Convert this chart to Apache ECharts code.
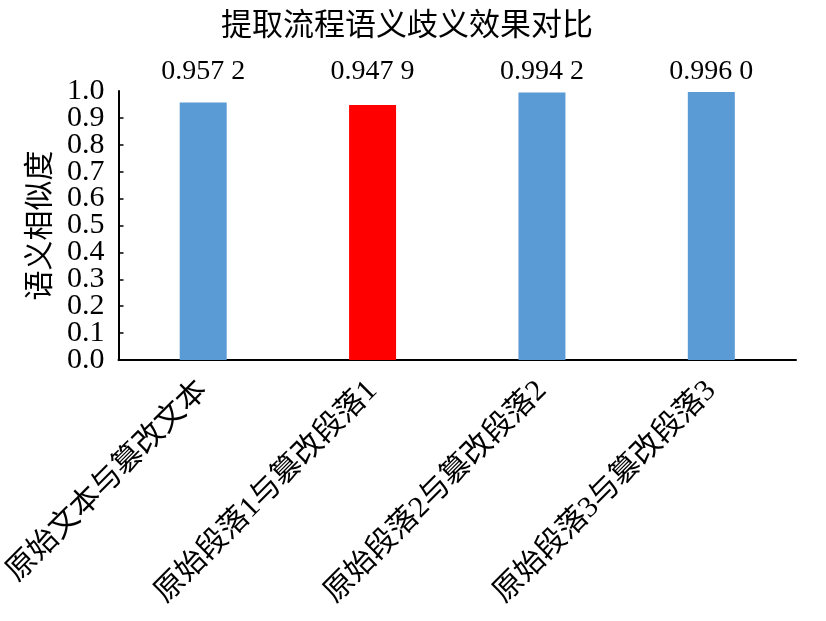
<!DOCTYPE html>
<html>
<head>
<meta charset="utf-8">
<script src="https://cdn.jsdelivr.net/npm/echarts@6/dist/echarts.min.js"></script>
<style>html,body{margin:0;padding:0;background:#fff;}#c{width:826px;height:621px;}</style>
</head>
<body>
<div id="c"></div>
<script>
var titleText = '提取流程语义歧义效果对比';
var yAxisName = '语义相似度';
var categories = ['原始文本与篡改文本', '原始段落1与篡改段落1', '原始段落2与篡改段落2', '原始段落3与篡改段落3'];
var values = [0.9572, 0.9479, 0.9942, 0.9960];
var barColors = ['#5B9BD5', '#FF0000', '#5B9BD5', '#5B9BD5'];
var yMin = 0, yMax = 1, yInterval = 0.1;

var FONT = "'Liberation Serif', 'Noto Sans CJK SC', serif";
function fmt(v) {
  var s = v.toFixed(4);
  return s.slice(0, 5) + ' ' + s.slice(5);
}
var yLabelStyle = { fontFamily: FONT, fontSize: 30, color: '#000', margin: 14,
  formatter: function (v) { return v.toFixed(1); } };

var chart = echarts.init(document.getElementById('c'));
chart.setOption({
  animation: false,
  backgroundColor: '#fff',
  title: {
    text: titleText, left: 216, top: 6,
    textStyle: { fontFamily: FONT, fontSize: 31, fontWeight: 'normal', color: '#000' }
  },
  grid: { left: 115, right: 30, top: 91, bottom: 261, containLabel: false },
  xAxis: {
    type: 'category', data: categories,
    axisLine: { lineStyle: { color: '#000', width: 2 } },
    axisTick: { show: false },
    axisLabel: { rotate: 45, interval: 0, margin: 26, fontFamily: FONT, fontSize: 30, color: '#000' }
  },
  yAxis: [
    {
      type: 'value', min: yMin, max: yMax, interval: yInterval, position: 'left',
      name: yAxisName, nameLocation: 'middle', nameRotate: 90, nameGap: 60,
      nameTextStyle: { fontFamily: FONT, fontSize: 30, color: '#000' },
      splitLine: { show: false },
      axisLine: { show: true, lineStyle: { color: '#000', width: 2 } },
      axisTick: { show: true, inside: true, length: 5, lineStyle: { color: '#000', width: 1.5 } },
      axisLabel: Object.assign({ showMinLabel: false, showMaxLabel: false }, yLabelStyle)
    },
    {
      type: 'value', min: yMin, max: yMax, interval: yMax - yMin, position: 'left', offset: 0,
      splitLine: { show: false },
      axisLine: { show: false },
      axisTick: { show: false },
      axisLabel: Object.assign({ showMinLabel: true, showMaxLabel: true }, yLabelStyle)
    }
  ],
  series: [
    {
      type: 'bar', barWidth: 47, barGap: '-100%', silent: true, yAxisIndex: 0,
      data: values.map(function () { return yMax; }),
      itemStyle: { color: 'rgba(0,0,0,0)' },
      label: { show: true, position: 'top', distance: 5, fontFamily: FONT, fontSize: 28, color: '#000',
        formatter: function (p) { return fmt(values[p.dataIndex]); } },
      z: 1
    },
    {
      type: 'bar', barWidth: 47, yAxisIndex: 0,
      data: values.map(function (v, i) { return { value: v, itemStyle: { color: barColors[i] } }; }),
      label: { show: false },
      z: 2
    }
  ]
});
</script>
</body>
</html>
